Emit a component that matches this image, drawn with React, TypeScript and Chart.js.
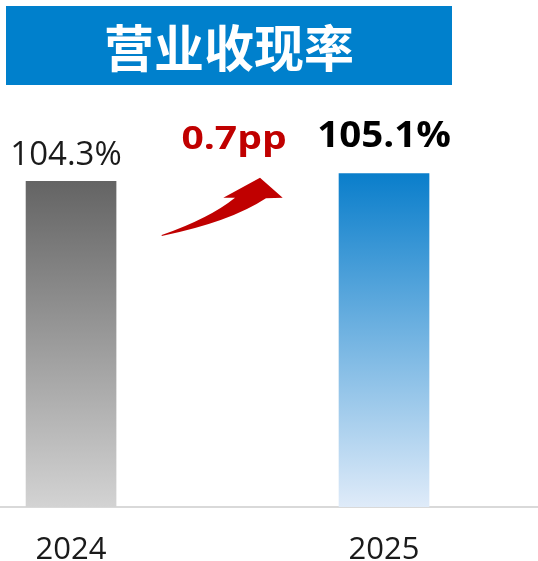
import React, { useEffect, useRef } from "react";
import { Chart, registerables } from "chart.js";

Chart.register(...registerables);

const title = "营业收现率";
const categories = ["2024", "2025"];
const values = [104.3, 105.1];
const valueLabels = ["104.3%", "105.1%"];
const changeLabel = "0.7pp";

const W = 538;
const H = 561;

export default function App() {
  const ref = useRef<HTMLCanvasElement>(null);

  useEffect(() => {
    const canvas = ref.current;
    if (!canvas) return;

    const gradientStops = [
      ["#646464", "#d3d3d3"],
      ["#0a7ecb", "#dfebf9"],
    ];

    const barColor = (c: any) => {
      const chart = c.chart;
      const ys = chart.scales?.y;
      const area = chart.chartArea;
      const i = c.dataIndex ?? 0;
      if (!ys || !area) return gradientStops[i][0];
      const top = ys.getPixelForValue(values[i]);
      const g = chart.ctx.createLinearGradient(0, top, 0, area.bottom);
      g.addColorStop(0, gradientStops[i][0]);
      g.addColorStop(1, gradientStops[i][1]);
      return g;
    };

    const labelStyles = [
      { font: "400 33px 'Open Sans'", color: "#1a1a1a", gap: 16, sx: 1, dx: -5 },
      { font: "700 35px 'Open Sans'", color: "#000000", gap: 26, sx: 1.1, dx: 0 },
    ];

    const drawText = (ctx: any, text: string, x: number, y: number, sx: number) => {
      ctx.save();
      ctx.translate(x, y);
      ctx.scale(sx, 1);
      ctx.fillText(text, 0, 0);
      ctx.restore();
    };

    const overlay = {
      id: "overlay",
      afterDatasetsDraw(chart: any) {
        const ctx = chart.ctx;
        const meta = chart.getDatasetMeta(0);
        ctx.save();
        ctx.textAlign = "center";
        ctx.textBaseline = "alphabetic";
        meta.data.forEach((el: any, i: number) => {
          const st = labelStyles[i];
          ctx.font = st.font;
          ctx.fillStyle = st.color;
          drawText(ctx, valueLabels[i], el.x + st.dx, el.y - st.gap, st.sx);
        });

        // change label
        ctx.font = "700 32px 'Open Sans'";
        ctx.fillStyle = "#c00000";
        drawText(ctx, changeLabel, 234, 149, 1.22);

        // curved arrow
        ctx.beginPath();
        ctx.moveTo(161.7, 235);
        ctx.quadraticCurveTo(210, 218, 235, 197.7);
        ctx.lineTo(223.3, 197.7);
        ctx.lineTo(260, 177.7);
        ctx.lineTo(282.7, 197.7);
        ctx.lineTo(266, 198.3);
        ctx.quadraticCurveTo(230, 222, 161.7, 236);
        ctx.closePath();
        ctx.fillStyle = "#c00000";
        ctx.fill();
        ctx.restore();
      },
    };

    const chart = new Chart(canvas, {
      type: "bar",
      data: {
        datasets: [
          {
            data: values.map((v, i) => ({ x: i, y: v })),
            backgroundColor: barColor,
            barThickness: 90,
            borderWidth: 0,
          },
        ],
      },
      options: {
        animation: false,
        responsive: false,
        devicePixelRatio: 1,
        layout: { padding: { top: 106, left: 0, right: 0, bottom: 0 } },
        plugins: {
          legend: { display: false },
          tooltip: { enabled: false },
          title: { display: false },
        },
        scales: {
          x: {
            type: "linear",
            offset: false,
            min: -0.227,
            max: 1.492,
            grid: { display: false, drawTicks: false, offset: false },
            border: { display: true, color: "#d9d9d9", width: 2 },
            afterBuildTicks: (axis: any) => {
              axis.ticks = categories.map((_, i) => ({ value: i }));
            },
            afterFit: (axis: any) => {
              axis.height = 54;
            },
            ticks: {
              callback: (v: any) => categories[v] ?? "",
              font: { family: "Open Sans", size: 31, lineHeight: 1 },
              color: "#1a1a1a",
              padding: 28,
              maxRotation: 0,
              autoSkip: false,
            },
          },
          y: { display: false, min: 71, max: 112 },
        },
      },
      plugins: [overlay],
    } as any);

    return () => chart.destroy();
  }, []);

  return (
    <div
      style={{
        position: "fixed",
        left: 0,
        top: 0,
        width: W,
        height: H,
        overflow: "hidden",
        background: "#ffffff",
      }}
    >
      <div
        style={{
          position: "absolute",
          left: 6,
          top: 6,
          width: 446,
          height: 79,
          background: "#0080cc",
          color: "#ffffff",
          fontFamily: "'Noto Sans CJK SC', sans-serif",
          fontWeight: 700,
          fontSize: 50,
          lineHeight: "79px",
          textAlign: "center",
        }}
      >
        {title}
      </div>
      <canvas
        ref={ref}
        width={W}
        height={H}
        style={{ position: "absolute", left: 0, top: 0, width: W, height: H }}
      />
    </div>
  );
}
